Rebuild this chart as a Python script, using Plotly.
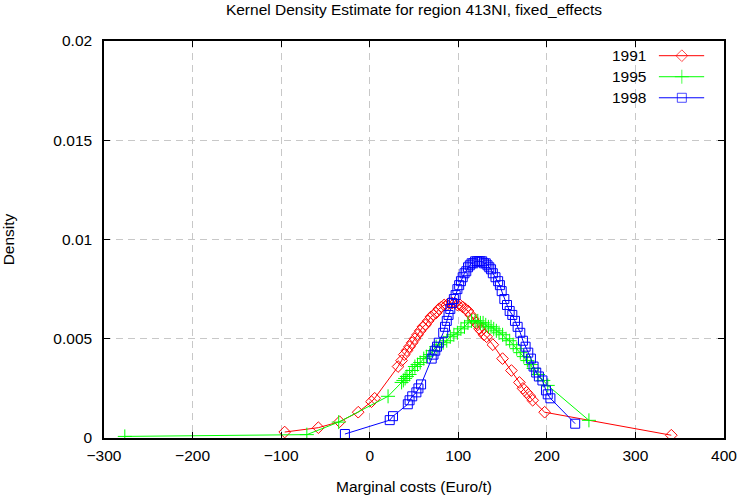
import plotly.graph_objects as go

# ---------------- data ----------------
x_1991 = [-96, -58, -34, -13, 2, 5.6, 32, 36, 39, 42, 45, 48, 51, 54, 57, 60, 63, 66, 69, 72,
          75, 78, 81, 84, 87, 90, 93, 96, 99, 102, 105, 108, 111, 114, 117, 120, 122, 124, 126,
          129, 132, 139, 150, 160, 169, 173, 177, 181, 184, 197.5, 340.5]
y_1991 = [0.0003, 0.00052, 0.00082, 0.0013, 0.00183, 0.0020, 0.0036, 0.0039, 0.0042, 0.0044,
          0.0046, 0.0048, 0.0050, 0.0052, 0.0054, 0.0056, 0.0057, 0.0059, 0.0061, 0.0062,
          0.0063, 0.0065, 0.0066, 0.0067, 0.0067, 0.0068, 0.0068, 0.0068, 0.0067, 0.0067,
          0.0066, 0.0065, 0.0064, 0.0062, 0.0060, 0.0058, 0.0057, 0.0055, 0.0054,
          0.0052, 0.0051, 0.0047, 0.0040, 0.0034, 0.0028, 0.0025, 0.0023, 0.0021, 0.0019,
          0.0013, 0.00014]

x_1995 = [-276.5, -71, -35, 20.7, 36, 38, 40, 42, 45, 48, 51, 54, 57, 61, 64, 68, 71, 75, 79,
          83, 87, 91, 95, 99, 103, 107, 111, 115, 119, 122, 125, 128, 131, 134, 137, 140, 143,
          146, 150, 154, 158, 162, 166, 170, 174, 178, 182, 185, 190, 196, 201, 247.5]
y_1995 = [0.00008, 0.00017, 0.0008, 0.0021, 0.0028, 0.0029, 0.0030, 0.0031, 0.0032, 0.0034,
          0.0036, 0.0037, 0.0038, 0.0040, 0.0041, 0.0042, 0.0044, 0.0046, 0.0047,
          0.0048, 0.0049, 0.0051, 0.0052, 0.0053, 0.0055, 0.0056, 0.0058, 0.0059, 0.0059,
          0.0059, 0.0058, 0.0058, 0.0057, 0.0056, 0.0056, 0.0055, 0.0054,
          0.0053, 0.0052, 0.0050, 0.0049, 0.0047, 0.0045, 0.0043, 0.0041, 0.0039, 0.0037,
          0.0035, 0.0032, 0.0029, 0.00265, 0.00089]

x_1998 = [-28, 22.6, 26.3, 43, 45, 48, 52.7, 55, 58, 70, 72, 74, 76, 78, 83, 85, 87, 89, 91,
          93, 95, 97, 99, 101, 103, 105, 107, 109, 111, 113, 115, 117, 119, 121, 123, 125, 127,
          129, 131, 133, 135, 137, 139, 142, 145, 147, 149, 152, 155, 158, 161, 164, 167, 170,
          173, 176, 179, 182, 185, 188, 191, 195, 199, 201, 204, 232]
y_1998 = [0.0002, 0.0009, 0.0011, 0.0017, 0.0019, 0.0021, 0.0023, 0.0025, 0.0027, 0.0040,
          0.0042, 0.0044, 0.0046, 0.0048, 0.0053, 0.0056, 0.0059, 0.0062, 0.0065,
          0.0068, 0.0070, 0.0072, 0.0075, 0.0077, 0.0079, 0.0081, 0.0083, 0.0084, 0.0086,
          0.0087, 0.0088, 0.0088, 0.0089, 0.0089, 0.0089, 0.0089, 0.0089,
          0.0088, 0.0088, 0.0087, 0.0086, 0.0085, 0.0083, 0.0081, 0.0079, 0.0077, 0.0074,
          0.0070, 0.0067, 0.0064, 0.0062, 0.0059, 0.0056, 0.0053,
          0.0049, 0.0046, 0.0043, 0.0040, 0.0036, 0.0033, 0.0031, 0.0029, 0.0024, 0.0022,
          0.0020, 0.00072]

series_names = ["1991", "1995", "1998"]
x_ticks = [-300, -200, -100, 0, 100, 200, 300, 400]
y_ticks = [0, 0.005, 0.01, 0.015, 0.02]
y_tick_text = ["0", "0.005", "0.01", "0.015", "0.02"]

# ---------------- styles ----------------
FONT = "Liberation Sans, Arial, sans-serif"
FS = 15.5
colors = ["#ff0000", "#00ff00", "#0000ff"]
symbols = ["diamond-open", "cross-thin-open", "square-open"]
msizes = [9, 10, 9]

fig = go.Figure()
for xs, ys, name, c, s, ms in zip([x_1991, x_1995, x_1998], [y_1991, y_1995, y_1998],
                                 series_names, colors, symbols, msizes):
    fig.add_trace(go.Scatter(x=xs, y=ys, mode="lines+markers", name=name,
                             line=dict(color=c, width=1),
                             marker=dict(symbol=s, size=ms, color=c,
                                         line=dict(color=c, width=1)),
                             showlegend=False))

# custom legend (text left of key, as in the reference)
leg_rows = [0.963, 0.910, 0.857]
for name, c, s, ms, yr in zip(series_names, colors, symbols, msizes, leg_rows):
    fig.add_annotation(xref="paper", yref="paper", x=0.877, y=yr, text=name,
                       showarrow=False, xanchor="right", yanchor="middle",
                       font=dict(family=FONT, size=FS, color="black"))
    fig.add_trace(go.Scatter(x=[0.895, 0.932, 0.968], y=[yr, yr, yr], xaxis="x2", yaxis="y2",
                             mode="lines+markers", line=dict(color=c, width=1),
                             marker=dict(symbol=s, size=[0, ms, 0], color=c,
                                         line=dict(color=c, width=1)),
                             showlegend=False, hoverinfo="skip"))

axis_common = dict(showline=True, linecolor="black", linewidth=1.5, mirror="allticks",
                   ticks="inside", ticklen=6, tickcolor="black", automargin=False,
                   showgrid=True, gridcolor="#c8c8c8", gridwidth=1, griddash="7px,5px",
                   zeroline=False, tickfont=dict(family=FONT, size=FS, color="black"))

fig.update_layout(
    width=741, height=502,
    margin=dict(l=104, r=17, t=41, b=64),
    plot_bgcolor="white", paper_bgcolor="white",
    title=dict(text="Kernel Density Estimate for region 413NI, fixed_effects",
               x=0.5, xref="paper", y=1 - 10 / 502, yref="container",
               xanchor="center", yanchor="middle",
               font=dict(family=FONT, size=FS, color="black")),
    xaxis=dict(range=[-300, 400], tickvals=x_ticks, ticklabelstandoff=3, **axis_common,
               title=dict(text="Marginal costs (Euro/t)", standoff=18,
                          font=dict(family=FONT, size=FS, color="black"))),
    yaxis=dict(range=[0, 0.02], tickvals=y_ticks, ticktext=y_tick_text,
               ticklabelstandoff=7, **axis_common,
               title=dict(text="Density", standoff=36,
                          font=dict(family=FONT, size=FS, color="black"))),
    xaxis2=dict(overlaying="x", range=[0, 1], visible=False),
    yaxis2=dict(overlaying="y", range=[0, 1], visible=False),
)

fig.write_html("out.html")
